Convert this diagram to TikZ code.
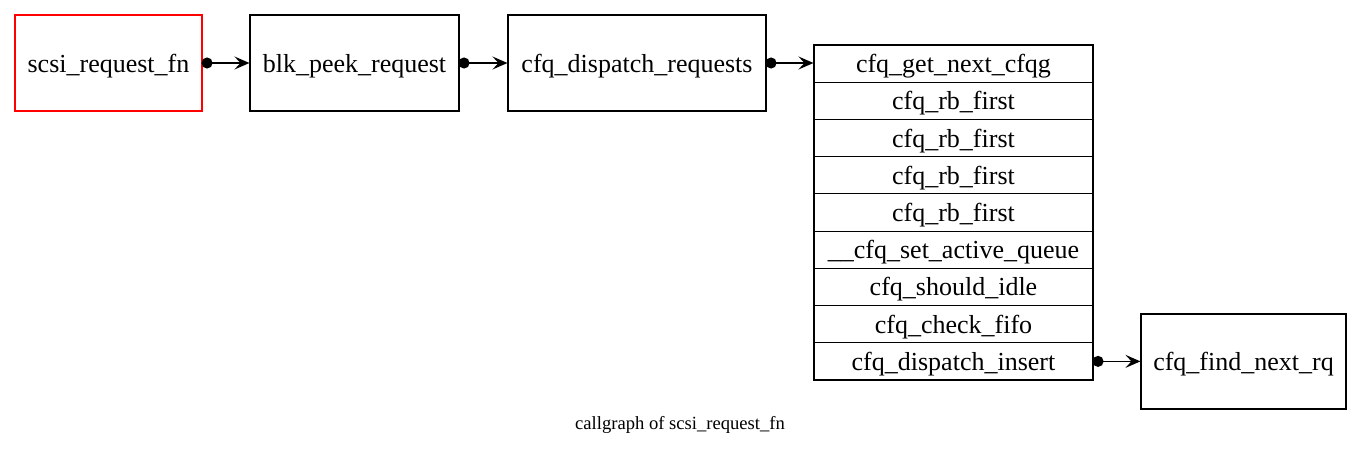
\documentclass[tikz,border=0pt]{standalone}
\usepackage{fontspec}
\setmainfont{Liberation Serif}
\usetikzlibrary{arrows.meta}
\begin{document}
\begin{tikzpicture}[x=1pt,y=-1pt,
  bx/.style={draw=black,line width=1.1pt,inner sep=0pt,font=\fontsize{26}{30}\selectfont,text height=18pt,text depth=0pt},
  call/.style={line width=1.5pt,{Circle[length=11pt]}-{Stealth[length=15pt,width=13pt,inset=6pt]},shorten <=-1pt}
]
\useasboundingbox (0,0) rectangle (1361,455);
\node[bx,draw=red,minimum width=187pt,minimum height=96pt] (a) at (108.5,63) {scsi\_request\_fn};
\node[bx,minimum width=209pt,minimum height=96pt] (b) at (354.5,63) {blk\_peek\_request};
\node[bx,minimum width=258pt,minimum height=96pt] (c) at (637,63) {cfq\_dispatch\_requests};
\foreach \i/\t in {1/cfq\_get\_next\_cfqg,2/cfq\_rb\_first,3/cfq\_rb\_first,4/cfq\_rb\_first,5/cfq\_rb\_first,6/\_\_cfq\_set\_active\_queue,7/cfq\_should\_idle,8/cfq\_check\_fifo,9/cfq\_dispatch\_insert}{
  \node[bx,minimum width=279pt,minimum height=37.2pt] (r\i) at (953.5,{45+37.22*(\i-0.5)}) {\t};
}
\node[bx,minimum width=205pt,minimum height=95pt] (d) at (1243.5,361.5) {cfq\_find\_next\_rq};
\draw[call] (a.east) -- (b.west);
\draw[call] (b.east) -- (c.west);
\draw[call] (c.east) -- (c.east -| r1.west);
\draw[call] (r9.east) -- (r9.east -| d.west);
\node[font=\fontsize{18.6}{22}\selectfont] (cap) at (680,425) {callgraph of scsi\_request\_fn};
\end{tikzpicture}
\end{document}
